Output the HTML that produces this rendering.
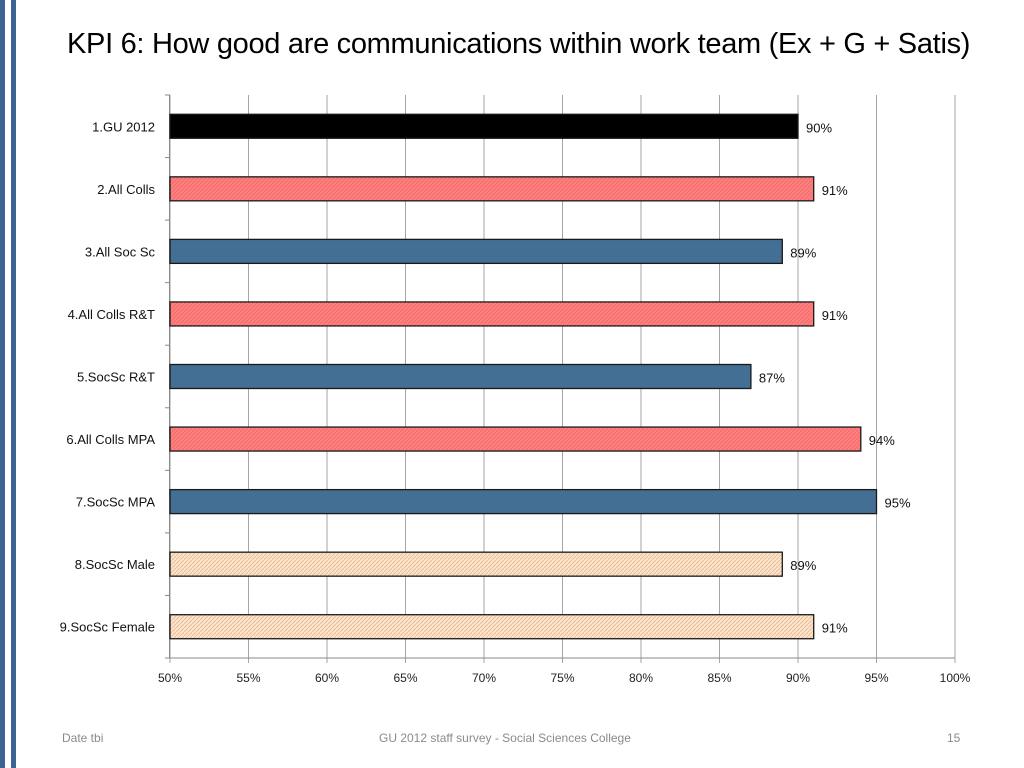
<!DOCTYPE html>
<html><head><meta charset="utf-8"><style>
body{margin:0;width:1024px;height:768px;background:#fff;overflow:hidden;font-family:"Liberation Sans",sans-serif;position:relative}
.s{position:absolute;top:0;height:768px;background:#3d6593}
</style></head><body>
<div class="s" style="left:0;width:5px"></div>
<div class="s" style="left:11px;width:5px"></div>
<div style="position:absolute;left:67px;top:28px;font-size:29px;color:#000;letter-spacing:-0.3px">KPI 6: How good are communications within work team (Ex + G + Satis)</div>
<svg width="1024" height="768" style="position:absolute;left:0;top:0">
<defs>
<pattern id="pr" width="4" height="4" patternUnits="userSpaceOnUse"><rect width="4" height="4" fill="#ff7f7f"/><path d="M0 4L4 0" stroke="#f06a6a" stroke-width="1"/></pattern>
<pattern id="pb" width="4" height="4" patternUnits="userSpaceOnUse"><rect width="4" height="4" fill="#fbe4cc"/><path d="M0 4L4 0" stroke="#e8b890" stroke-width="0.8"/></pattern>
</defs>
<g id="g"></g>
</svg>
<div style="position:absolute;left:62px;top:731px;font-size:12px;color:#8a8a8a">Date tbi</div>
<div style="position:absolute;left:379px;top:731px;font-size:12px;color:#8a8a8a">GU 2012 staff survey -  Social Sciences College</div>
<div style="position:absolute;left:947px;top:731px;font-size:12px;color:#8a8a8a">15</div>
<script>
const categories=["1.GU 2012","2.All Colls","3.All Soc Sc","4.All Colls R&T","5.SocSc R&T","6.All Colls MPA","7.SocSc MPA","8.SocSc Male","9.SocSc Female"];
const values=[90,91,89,91,87,94,95,89,91];
const fills=["#000","url(#pr)","#426f93","url(#pr)","#426f93","url(#pr)","#426f93","url(#pb)","url(#pb)"];
const ticks=[50,55,60,65,70,75,80,85,90,95,100];
const L=170,R=955,T=95,B=658;
const x=v=>L+(v-50)/50*(R-L);
const band=(B-T)/categories.length;
const yc=i=>T+band*(i+0.5);
const g=document.getElementById('g');
const NS="http://www.w3.org/2000/svg";
function mk(t,a){const e=document.createElementNS(NS,t);for(const k in a)e.setAttribute(k,a[k]);g.appendChild(e);return e;}
ticks.forEach(t=>{
 const l=mk('line',{x1:x(t),x2:x(t),y1:T,y2:B+5,stroke:'#a6a6a6'});
 
 
 const tx=mk('text',{x:x(t),y:B+24,'text-anchor':'middle','font-size':12,fill:'#222'});
 tx.textContent=t+'%';
 
 
});
mk('line',{x1:L-0.5,x2:L-0.5,y1:T,y2:B,stroke:'#888'});
mk('line',{x1:L-5,x2:R,y1:B,y2:B,stroke:'#888'});
for(let i=0;i<=categories.length;i++)mk('line',{x1:L-5,x2:L,y1:T+band*i,y2:T+band*i,stroke:'#888'});
categories.forEach((c,i)=>{
 const r=mk('rect',{x:L,y:yc(i)-12,width:x(values[i])-L,height:24,fill:fills[i],stroke:'#1a1a1a','stroke-width':1.3});
 
 
 const lb=mk('text',{x:155,y:yc(i)+5,'text-anchor':'end','font-size':13,fill:'#111'});
 lb.textContent=c;
 
 
 const v=mk('text',{x:x(values[i])+8,y:yc(i)+6,'font-size':13,fill:'#111'});
 v.textContent=values[i]+'%';
 
 
});
</script>
</body></html>
